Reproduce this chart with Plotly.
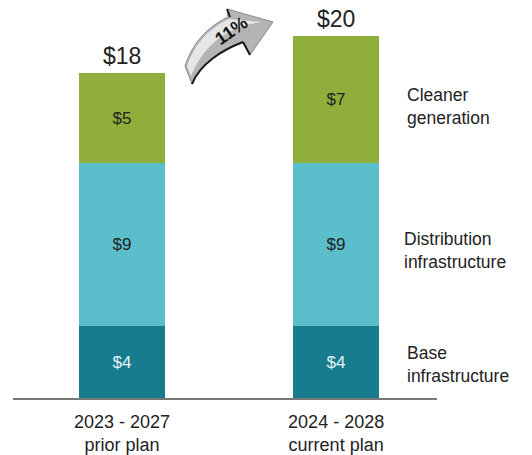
import plotly.graph_objects as go

categories = ["2023 - 2027<br>prior plan", "2024 - 2028<br>current plan"]
series_names = ["Base<br>infrastructure", "Distribution<br>infrastructure", "Cleaner<br>generation"]
base = [4, 4]
distribution = [9, 9]
cleaner = [5, 7]
totals = [18, 20]
growth_label = "11%"

colors = ["#167C8E", "#5BBFCB", "#8FAE3C"]
text_colors = ["#E8F4F6", "#222222", "#222222"]
FONT = "Liberation Sans"

W, H = 532, 455
L, R, T, B = 13, 437, 2, 398


def px(x, y):
    return (x - L) / (R - L), (B - y) / (B - T)


fig = go.Figure()
for name, vals, c, tc in zip(series_names, [base, distribution, cleaner], colors, text_colors):
    fig.add_trace(go.Bar(
        x=categories, y=vals, name=name, marker=dict(color=c, line=dict(width=0)),
        width=0.40, text=[f"${v}" for v in vals], textposition="inside",
        insidetextanchor="middle", textfont=dict(color=tc, size=17, family=FONT),
        hoverinfo="skip", showlegend=False,
    ))

annotations = []
for cat, t in zip(categories, totals):
    annotations.append(dict(x=cat, y=t, xref="x", yref="y", text=f"${t}", showarrow=False,
                            yanchor="bottom", yshift=2,
                            font=dict(size=23, color="#222222", family=FONT)))

side_pos = [(405, 106), (402, 250), (405, 364)]
for name, (sx, sy) in zip(series_names[::-1], side_pos):
    xp, yp = px(sx, sy)
    annotations.append(dict(x=xp, y=yp, xref="paper", yref="paper", text=name, showarrow=False,
                            xanchor="left", yanchor="middle", align="left",
                            font=dict(size=17.5, color="#222222", family=FONT)))


def P(x, y):
    a, b = px(x, y)
    return f"{a:.4f},{b:.4f}"


# curved growth arrow (decoration)
path = (f"M {P(185, 66)} C {P(192, 45)} {P(205, 28)} {P(228, 17)} "
        f"L {P(227, 9)} L {P(273, 22)} L {P(250, 55)} L {P(243, 42)} "
        f"C {P(222, 50)} {P(200, 64)} {P(192, 84)} Z")
lower_edge = f"M {P(243, 42)} C {P(222, 50)} {P(200, 64)} {P(192, 84)}"
highlight = (f"M {P(187, 66)} C {P(194, 46)} {P(206, 30)} {P(229, 19)} "
             f"L {P(262, 22)} C {P(230, 26)} {P(205, 42)} {P(191, 76)} Z")
shapes = [
    dict(type="path", xref="paper", yref="paper", path=path, layer="below",
         fillcolor="#B4B4B4", line=dict(color="#8A8A8A", width=1)),
    dict(type="path", xref="paper", yref="paper", path=highlight, layer="below",
         fillcolor="#E6E6E6", line=dict(width=0)),
    dict(type="path", xref="paper", yref="paper", path=lower_edge, layer="below",
         line=dict(color="#1A1A1A", width=2)),
    dict(type="line", xref="paper", yref="paper", x0=px(227, 9)[0], y0=px(227, 9)[1], layer="below",
         x1=px(230, 17)[0], y1=px(230, 17)[1], line=dict(color="#1A1A1A", width=2)),
    dict(type="line", xref="paper", yref="paper", x0=px(243, 42)[0], y0=px(243, 42)[1], layer="below",
         x1=px(250, 55)[0], y1=px(250, 55)[1], line=dict(color="#1A1A1A", width=2)),
]
ax, ay = px(231, 31)
annotations.append(dict(x=ax, y=ay, xref="paper", yref="paper", text=growth_label,
                        showarrow=False, textangle=-35, xanchor="center", yanchor="middle",
                        font=dict(size=18, color="#111111", family=FONT, weight="bold")))

fig.update_layout(
    width=W, height=H, barmode="stack", bargap=0,
    margin=dict(l=L, r=W - R, t=T, b=H - B, autoexpand=False),
    paper_bgcolor="white", plot_bgcolor="rgba(0,0,0,0)",
    xaxis=dict(type="category", range=[-0.509, 1.471], showline=True, linecolor="#777777",
               linewidth=2, ticks="", showgrid=False, zeroline=False, automargin=False,
               ticklabelstandoff=6,
               tickfont=dict(size=18, color="#222222", family=FONT)),
    yaxis=dict(range=[0, 21.9], visible=False, showgrid=False, zeroline=False),
    annotations=annotations, shapes=shapes, uniformtext=dict(mode="show", minsize=10),
)

fig.write_html("out.html", config={"displayModeBar": False},
               post_script="document.body.style.margin='0';document.body.style.overflow='hidden';")
